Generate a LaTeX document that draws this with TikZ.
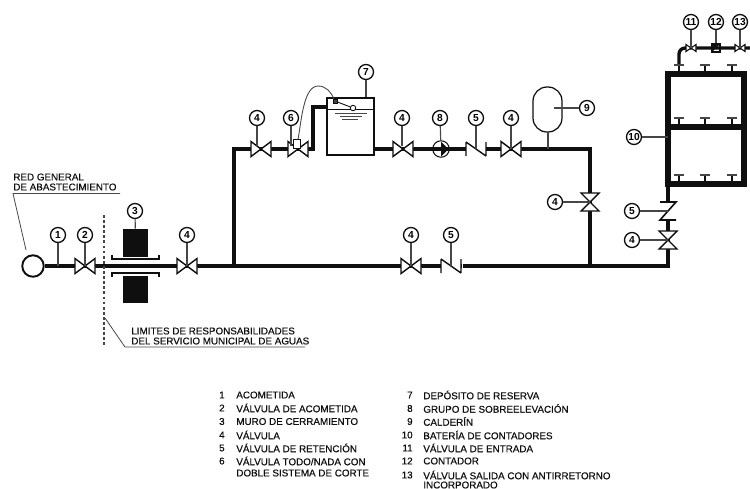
\documentclass[tikz,border=0pt]{standalone}
\usepackage{fontspec}
\setmainfont{Liberation Sans}
\definecolor{pipeblack}{RGB}{15,15,15}
\definecolor{thingrey}{RGB}{70,70,70}
\usetikzlibrary{positioning,calc}
\tikzset{
    tag/.style={draw=pipeblack, circle, line width=0.75pt, fill=white, inner sep=0pt, minimum size=0.3cm, font=\fontsize{5.8}{6}\selectfont\bfseries},
    stem/.style={draw=thingrey, line width=0.65pt},
    pipe/.style={draw=pipeblack, line width=2.7pt},
    frame/.style={draw=pipeblack, line width=3.4pt},
    leader/.style={draw=thingrey, line width=0.45pt},
    spot/.style={inner sep=0pt, minimum size=0pt},
    note/.style={anchor=west, inner sep=0pt, align=left, text=pipeblack, font=\fontsize{5.6}{5.7}\selectfont\addfontfeature{FakeBold=0.5}},
    num/.style={anchor=east, inner sep=0pt, text=pipeblack, font=\fontsize{5.6}{5.7}\selectfont\addfontfeature{FakeBold=0.5}},
    valveh/.pic={\draw[draw=pipeblack, fill=white, line width=0.8pt] (-10,-7.5) -- (10,7.5) -- (10,-7.5) -- (-10,7.5) -- cycle;},
    valvev/.pic={\draw[draw=pipeblack, fill=white, line width=0.8pt] (-9,-9) -- (9,9) -- (-9,9) -- (9,-9) -- cycle;},
    tinyvalve/.pic={\draw[draw=pipeblack, fill=white, line width=0.6pt] (-5,-3.5) -- (5,3.5) -- (5,-3.5) -- (-5,3.5) -- cycle;},
    checkh/.pic={\fill[white] (-10,-6) rectangle (10,6);
        \draw[draw=pipeblack, line width=0.8pt] (-10,-7) -- (-10,7) (-10,-7) -- (10,7) (10,-7) -- (10,7);},
    checkv/.pic={\fill[white] (-8,-9) rectangle (8,9);
        \draw[draw=pipeblack, line width=0.9pt] (-8,-9) -- (8,-9) -- (-8,9) -- (8,9);},
    gauge/.pic={\draw[draw=pipeblack, line width=0.6pt] (0,0) -- (0,-9);
        \fill[thingrey] (-5,-10.5) rectangle (5,-8);}
}

\begin{document}
\begin{tikzpicture}[x=0.02cm, y=-0.02cm]
    \useasboundingbox (0,0) rectangle (750,488);

    % Fittings on the pipes
    \node[spot] (v2) at (85,266) {};
    \node[spot] (v4a) at (187,266) {};
    \node[spot] (v4b) at (261,149) {};
    \node[spot] (v6) at (298,149) {};
    \node[spot] (v4c) at (403,149) {};
    \node[spot] (v4d) at (511,149) {};
    \node[spot] (c5a) at (476,149) {};
    \node[spot] (v4e) at (411,266) {};
    \node[spot] (c5b) at (451,266) {};
    \node[spot] (v4f) at (590,202) {};
    \node[spot] (c5c) at (668,211) {};
    \node[spot] (v4g) at (668,240) {};
    \node[spot] (v11) at (691,48) {};
    \node[spot] (v13) at (740,48) {};

    % Corners and ends of the pipes
    \coordinate (mainend) at (668,266);
    \coordinate (risebase) at (234,266);
    \coordinate (risetop) at (234,149);
    \coordinate (stepfoot) at (313,149);
    \coordinate (steptop) at (313,107);
    \coordinate (dropbase) at (590,266);
    \coordinate (droptop) at (590,149);
    \coordinate (outend) at (750,48);

    % Tank, pump, vessel, source
    \node[draw=pipeblack, fill=white, line width=1.1pt, circle, minimum size=0.43cm, inner sep=0pt] (source) at (33,266) {};
    \node[draw=pipeblack, line width=0.9pt, fill=white, minimum width=0.94cm, minimum height=1.14cm, inner sep=0pt] (tank) at (350.5,126.5) {};
    \node[draw=pipeblack, fill=white, line width=0.6pt, circle, minimum size=0.33cm, inner sep=0pt] (pump) at (441,149) {};
    \node[draw=pipeblack, fill=white, line width=0.7pt, rounded corners=0.28cm, minimum width=0.58cm, minimum height=0.9cm, inner sep=0pt] (vessel) at (547.5,109.5) {};
    \node[fill=pipeblack, minimum width=0.5cm, minimum height=0.56cm, inner sep=0pt] (wallup) at (135.5,243) {};
    \node[fill=pipeblack, minimum width=0.5cm, minimum height=0.54cm, inner sep=0pt] (walldown) at (135.5,289.5) {};
    \node[draw=pipeblack, fill=white, line width=0.6pt, minimum size=0.16cm, inner sep=0pt, path picture={\fill[pipeblack] (path picture bounding box.north east) -- (path picture bounding box.south west) -- (path picture bounding box.north west) -- cycle;}] (meter) at (716,48) {};

    % Pipes
    \draw[pipe] (source) -- (mainend);
    \draw[pipe, line join=miter] (risebase) -- (risetop) -- (stepfoot) -- (steptop) -- (tank.west |- steptop);
    \draw[pipe] (tank.east |- droptop) -- (droptop) -- (dropbase);
    \draw[pipe] ($(mainend)+(0,2.3)$) -- (668,127);
    \draw[frame] (668,74) rectangle (744,184);
    \draw[frame] (668,127) -- (744,127);
    \draw[pipe, line width=1.9pt, rounded corners=0.12cm] (679,65) -- (679,48) -- (outend);
    \fill[white] (461.5,263) rectangle (463,269.5);

    % Wall sleeve
    \draw[draw=pipeblack, line width=0.6pt] (112,255) -- (112,259) -- (159,259) -- (159,255);
    \draw[draw=pipeblack, line width=0.6pt] (112,277) -- (112,273) -- (159,273) -- (159,277);

    % Valves
    \foreach \fit in {v2,v4a,v4b,v6,v4c,v4d,v4e}
        \pic at (\fit) {valveh};
    \foreach \fit in {c5a,c5b}
        \pic at (\fit) {checkh};
    \pic at (v4f) {valvev};
    \pic at (v4g) {valvev};
    \pic at (c5c) {checkv};
    \pic at (v11) {tinyvalve};
    \pic at (v13) {tinyvalve};
    \node[draw=pipeblack, fill=white, line width=0.5pt, minimum width=0.15cm, minimum height=0.17cm, inner sep=0pt] (v6cap) at (297,144) {};

    % Pump impeller
    \fill[pipeblack] ($(pump)+(0,-7.5)$) -- ($(pump)+(7.5,0)$) -- ($(pump)+(0,7.5)$) -- cycle;

    % Inside the tank
    \draw[draw=pipeblack, line width=0.5pt] (tank.west |- 0,109) -- (tank.east |- 0,109);
    \draw[draw=thingrey, line width=0.5pt] (335,113) -- (367,113) (340,116) -- (362,116) (342,119) -- (358,119);
    \node[draw=pipeblack, fill=white, circle, line width=0.5pt, minimum size=0.11cm, inner sep=0pt] (float) at (353,108) {};
    \node[draw=pipeblack, fill=thingrey, line width=0.3pt, minimum size=0.08cm, inner sep=0pt] (inlet) at (335,101) {};
    \draw[draw=pipeblack, line width=0.5pt] (inlet) -- (float);
    \draw[stem, line width=0.5pt] (v6cap) .. controls (301,125) and (303,86) .. (318,86) .. controls (326,86) and (331,92) .. (inlet);

    % Meters on the battery
    \foreach \xm in {679,705,732}
        \foreach \ym in {74,127,184}
            \pic at (\xm,\ym) {gauge};

    % Numbered tags
    \node[tag] (t1) at (58,235) {1};
    \node[tag] (t2) at (85,235) {2};
    \node[tag] (t3) at (135,211) {3};
    \node[tag] (t4a) at (187,235) {4};
    \node[tag] (t4b) at (257,118) {4};
    \node[tag] (t6) at (291,118) {6};
    \node[tag] (t7) at (366,72) {7};
    \node[tag] (t4c) at (402,118) {4};
    \node[tag] (t8) at (440,118) {8};
    \node[tag] (t5a) at (476,118) {5};
    \node[tag] (t4d) at (511,118) {4};
    \node[tag] (t9) at (587,108) {9};
    \node[tag] (t4e) at (411,235) {4};
    \node[tag] (t5b) at (451,235) {5};
    \node[tag] (t4f) at (555,202) {4};
    \node[tag] (t10) at (634,137) {10};
    \node[tag] (t5c) at (632,211) {5};
    \node[tag] (t4g) at (632,240) {4};
    \node[tag] (t11) at (691,22) {11};
    \node[tag] (t12) at (716,22) {12};
    \node[tag] (t13) at (740,22) {13};

    % Tag stems
    \draw[stem] (t1) -- (58,266);
    \draw[stem] (t2) -- (v2);
    \draw[stem] (t3) -- (wallup);
    \draw[stem] (t4a) -- (v4a);
    \draw[stem] (t4b) -- (257,146);
    \draw[stem] (t6) -- (291,146);
    \draw[stem] (t7) -- (t7 |- tank.north);
    \draw[stem] (t4c) -- (402,146);
    \draw[stem] (t8) -- (pump);
    \draw[stem] (t5a) -- (c5a);
    \draw[stem] (t4d) -- (v4d);
    \draw[stem] (t9) -- (554,108);
    \draw[stem] (548,132) -- (548,149);
    \draw[stem] (t4e) -- (v4e);
    \draw[stem] (t5b) -- (c5b);
    \draw[stem] (t4f) -- (v4f);
    \draw[stem] (t10) -- (668,137);
    \draw[stem] (t5c) -- (c5c);
    \draw[stem] (t4g) -- (v4g);
    \draw[stem] (t11) -- (v11);
    \draw[stem] (t12) -- (meter);
    \draw[stem] (t13) -- (v13);

    % Limit line
    \coordinate (limtop) at (104,215);
    \coordinate (limend) at (104,345);
    \draw[draw=thingrey, line width=0.6pt, dash pattern=on 1.6pt off 1.3pt] (limtop) -- (limend);

    % Notes
    \node[note] (redtext) at (13,182) {RED GENERAL\\DE ABASTECIMIENTO};
    \draw[leader] (120,193.5) -- (13,193.5) -- (26,250);
    \node[note] (limtext) at (131,336) {LIMITES DE RESPONSABILIDADES\\DEL SERVICIO MUNICIPAL DE AGUAS};
    \draw[leader] (305,347) -- (125,347) -- (105,318);

    % Legend, left column
    \foreach \n/\yy/\txt [count=\i] in {1/395/ACOMETIDA, 2/408/VÁLVULA DE ACOMETIDA, 3/421.5/MURO DE CERRAMIENTO, 4/435/VÁLVULA, 5/448/VÁLVULA DE RETENCIÓN, 6/461/{VÁLVULA TODO/NADA CON}, /473/DOBLE SISTEMA DE CORTE}{
        \node[num] (numa\i) at (225,\yy) {\n};
        \node[note] (txta\i) at (236,\yy) {\txt};
    }
    % Legend, right column
    \foreach \n/\yy/\txt [count=\i] in {7/395/DEPÓSITO DE RESERVA, 8/408.5/GRUPO DE SOBREELEVACIÓN, 9/421.5/CALDERÍN, 10/435/BATERÍA DE CONTADORES, 11/448/VÁLVULA DE ENTRADA, 12/461/CONTADOR, 13/475/VÁLVULA SALIDA CON ANTIRRETORNO, /485/INCORPORADO}{
        \node[num] (numb\i) at (413,\yy) {\n};
        \node[note] (txtb\i) at (423,\yy) {\txt};
    }
\end{tikzpicture}
\end{document}
